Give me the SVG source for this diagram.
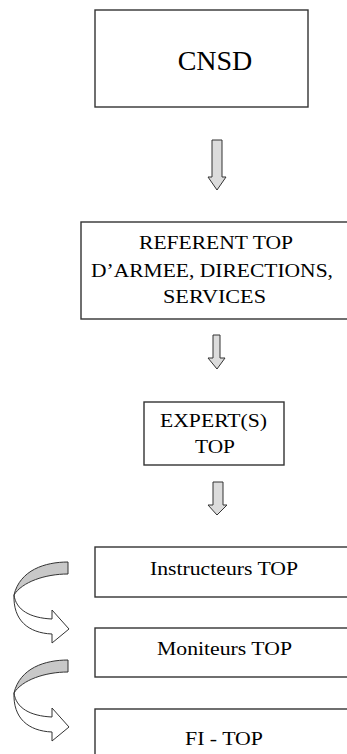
<svg xmlns="http://www.w3.org/2000/svg" width="347" height="754" viewBox="0 0 347 754">
<style>
.box{fill:#fff;stroke:#333;stroke-width:1.4}
.t{font-family:"Liberation Serif","Times New Roman",serif;fill:#000;text-anchor:middle}
.arr{fill:#dcdcdc;stroke:#333;stroke-width:1}
.band{fill:#c8c8c8;stroke:#333;stroke-width:1}
.wb{fill:#fff;stroke:#333;stroke-width:1}
</style>
<defs>
<g id="curl">
<path class="band" d="M68,660 C45,660 20,668 14,693 C22,680 45,672 68,672 Z"/>
<path class="wb" d="M14,693 C16,708 30,716 52,717 L52,708 L69,727 L52,741 L52,732 C28,731 13,718 14,693 Z"/>
</g>
</defs>
<rect width="347" height="754" fill="#fff"/>
<g id="connectors">
<path class="arr" d="M212,140 L222,140 L222,177 L226,177 L217,190 L208,177 L212,177 Z"/>
<path class="arr" d="M213,335 L220,335 L220,358 L225,358 L217,369 L208,358 L213,358 Z"/>
<path class="arr" d="M213,482 L223,482 L223,505 L227,505 L217,515 L208,505 L213,505 Z"/>
<use href="#curl" transform="translate(0,-98)"/>
<use href="#curl"/>
</g>
<g id="cnsd">
<rect class="box" x="95" y="10" width="213" height="97"/>
<text class="t" x="215" y="70" font-size="28">CNSD</text>
</g>
<g id="referent">
<rect class="box" x="81" y="222" width="275" height="97"/>
<text class="t" x="216" y="249" font-size="19" textLength="154" lengthAdjust="spacingAndGlyphs">REFERENT TOP</text>
<text class="t" x="212" y="277" font-size="19" textLength="242" lengthAdjust="spacingAndGlyphs">D’ARMEE, DIRECTIONS,</text>
<text class="t" x="214.5" y="303" font-size="19" textLength="103" lengthAdjust="spacingAndGlyphs">SERVICES</text>
</g>
<g id="expert">
<rect class="box" x="144" y="402" width="140" height="63"/>
<text class="t" x="213.5" y="427" font-size="19" textLength="107" lengthAdjust="spacingAndGlyphs">EXPERT(S)</text>
<text class="t" x="215" y="453" font-size="19" textLength="40" lengthAdjust="spacingAndGlyphs">TOP</text>
</g>
<g id="instructeurs">
<rect class="box" x="95" y="547" width="270" height="50"/>
<text class="t" x="224" y="575" font-size="19" textLength="148" lengthAdjust="spacingAndGlyphs">Instructeurs TOP</text>
</g>
<g id="moniteurs">
<rect class="box" x="95" y="628" width="270" height="49"/>
<text class="t" x="224.5" y="655" font-size="19" textLength="135" lengthAdjust="spacingAndGlyphs">Moniteurs TOP</text>
</g>
<g id="fitop">
<rect class="box" x="95" y="709" width="270" height="60"/>
<text class="t" x="224" y="745" font-size="19" textLength="78" lengthAdjust="spacingAndGlyphs">FI - TOP</text>
</g>
</svg>
